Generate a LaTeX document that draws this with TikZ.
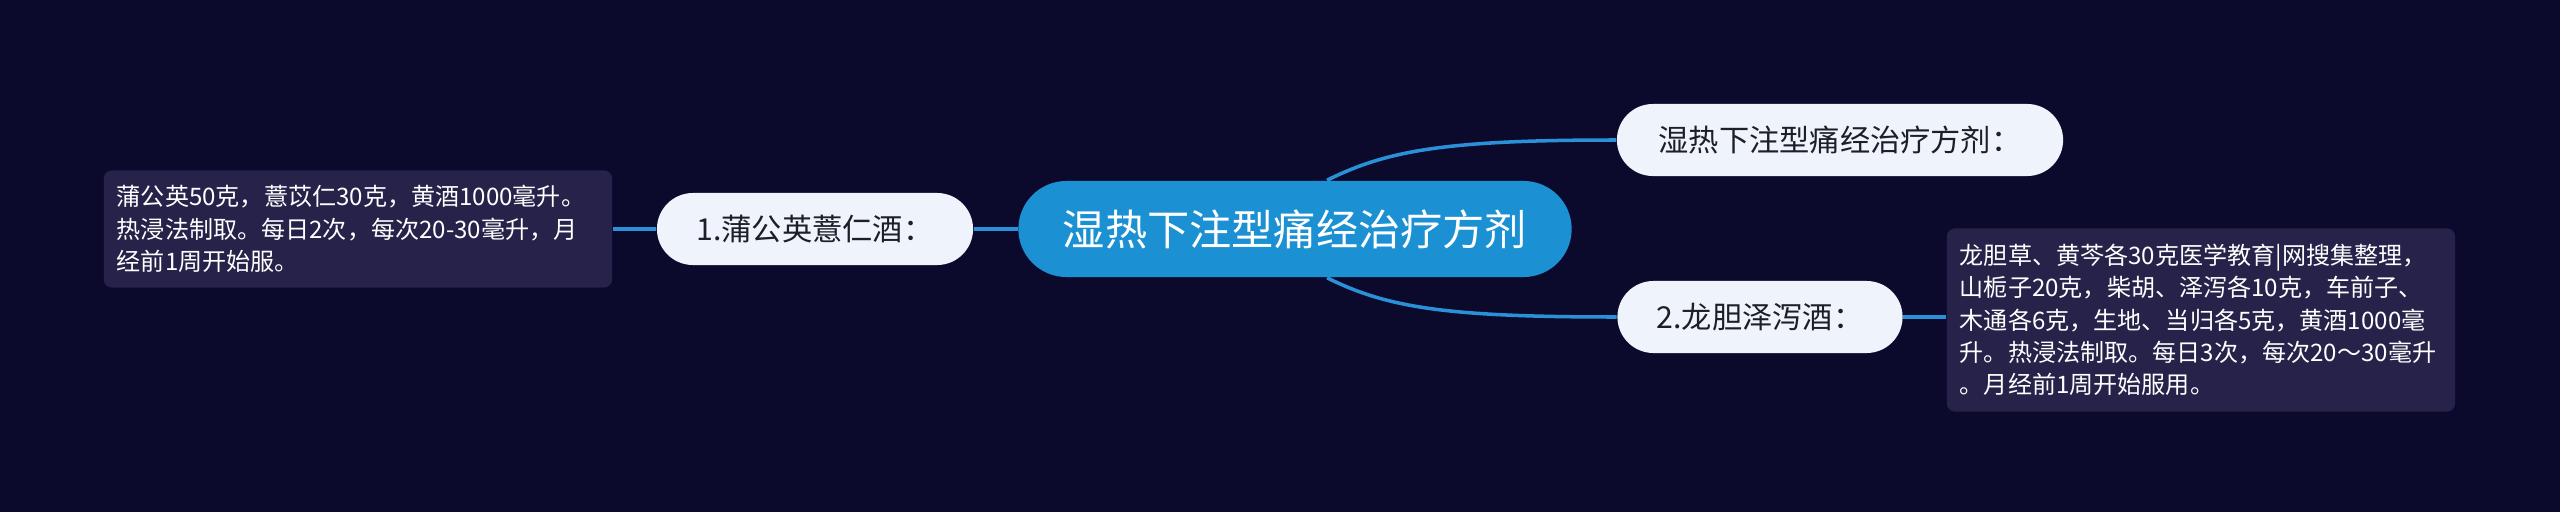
\documentclass[tikz,border=0pt]{standalone}
\usepackage{fontspec}
\newfontfamily\cjk{Noto Sans CJK SC}
\definecolor{bgcol}{HTML}{0B0A2D}
\definecolor{rootcol}{HTML}{1B90D3}
\definecolor{topiccol}{HTML}{EEF3FC}
\definecolor{notecol}{HTML}{262249}
\definecolor{linkcol}{HTML}{2A90D8}
\definecolor{inkcol}{HTML}{1E1E28}

\begin{document}
\begin{tikzpicture}[x=0.01cm,y=-0.01cm,
    rootbox/.style={fill=rootcol,text=white,rounded corners=0.48cm,minimum width=5.53cm,
      minimum height=0.96cm,inner sep=0pt,font=\cjk\fontsize{12}{14}\selectfont},
    topicbox/.style={fill=topiccol,text=inkcol,rounded corners=0.36cm,minimum height=0.72cm,
      inner sep=0pt,font=\cjk\fontsize{8.6}{10}\selectfont},
    notebox/.style={fill=notecol,text=white,rounded corners=0.08cm,inner sep=0.13cm,
      text width=4.82cm,align=left,font=\cjk\fontsize{6.85}{9.2}\selectfont},
    link/.style={draw=linkcol,line width=1pt}]

            \useasboundingbox (0,0) rectangle (2560,512);
            \fill[bgcol] (0,0) rectangle (2560,512);

            \node[rootbox] (root) at (1295,229) {湿热下注型痛经治疗方剂};
            \node[topicbox,minimum width=3.16cm] (t1) at (815,229) {1.蒲公英薏仁酒：};
            \node[topicbox,minimum width=4.46cm] (t0) at (1840,140) {湿热下注型痛经治疗方剂：};
            \node[topicbox,minimum width=2.85cm] (t2) at (1760,317) {2.龙胆泽泻酒：};

            \node[notebox,minimum height=1.17cm] (n1) at (358,229) {蒲公英50克，薏苡仁30克，黄酒1000毫升。\\热浸法制取。每日2次，每次20-30毫升，月\\经前1周开始服。};
            \node[notebox,minimum height=1.83cm] (n2) at (2201,320) {龙胆草、黄芩各30克医学教育|网搜集整理，\\山栀子20克，柴胡、泽泻各10克，车前子、\\木通各6克，生地、当归各5克，黄酒1000毫\\升。热浸法制取。每日3次，每次20～30毫升\\。月经前1周开始服用。};

            \draw[link] (t1.east) -- (root.west);
            \draw[link] (n1.east) -- (t1.west);
            \draw[link] ([xshift=0.32cm]root.north) .. controls +(60,-30) and +(-170,0) .. (t0.west);
            \draw[link] ([xshift=0.32cm]root.south) .. controls +(60,30) and +(-170,0) .. (t2.west);
            \draw[link] (t2.east) -- (t2.east -| n2.west);
        \end{tikzpicture}
\end{document}
